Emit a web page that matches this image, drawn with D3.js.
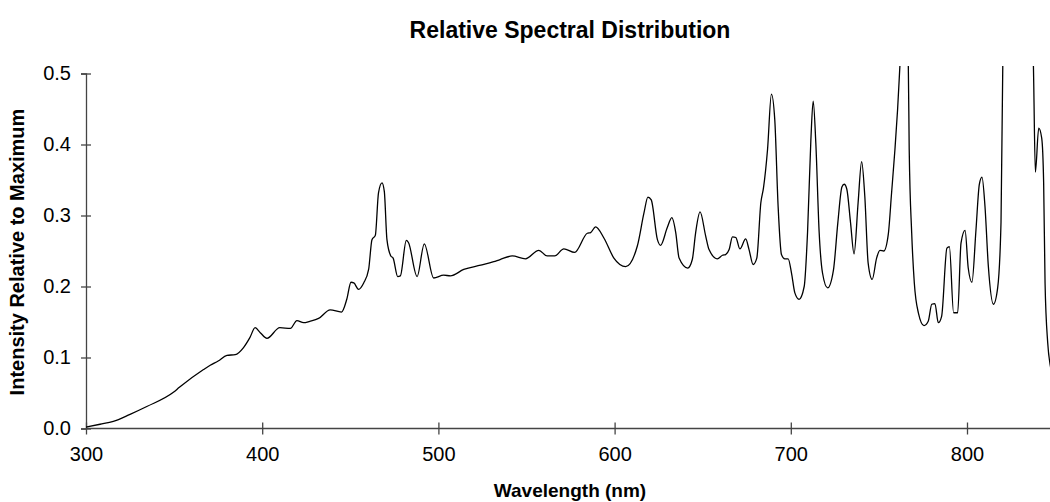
<!DOCTYPE html>
<html>
<head>
<meta charset="utf-8">
<script src="https://cdn.jsdelivr.net/npm/d3@7"></script>
<style>
  body { margin: 0; background: #fff; }
  text { font-family: "Liberation Sans", Arial, sans-serif; }
</style>
</head>
<body>
<div id="chart"></div>
<script>
// wavelength (nm) and relative intensity
const wavelength = [
  300, 308, 315.5, 325, 334.5, 349.6, 353, 366.7, 370.5, 375, 380, 384.7, 389.4, 393, 396, 398.9,
  402.7, 410, 416, 419.7, 423.5, 427, 432, 438.6, 445, 448, 450.4, 452, 454.7, 457.6, 460.4, 462.3,
  464.2, 466, 468, 469.3, 470.8, 473, 474.3, 476.9, 478.4, 481.8, 483, 487.9, 492, 497.3, 503, 506.8,
  514.4, 524, 531.4, 535, 541.9, 549.4, 557, 561.7, 566, 571.2, 577.3, 584.5, 586.4, 589.2, 594, 599.6,
  606.3, 612.9, 616.7, 618.9, 620.8, 624.3, 626.1, 629.9, 632.5, 634.7, 636.6, 641.5, 644.1, 646, 648.5,
  651.7, 653.6, 658.3, 661.2, 663, 665, 666.9, 668.8, 671.1, 674.4, 676.3, 678.6, 680.7, 683, 684.5,
  686.8, 689, 690.9, 692.8, 694.7, 696.6, 698.5, 700.4, 702.3, 704.7, 707.6, 709.5, 711.4, 712.7, 714.2,
  716.1, 718, 720.9, 724.2, 726.7, 729, 730.3, 731.8, 733.9, 735.9, 738.2, 740.2, 742, 743.9, 746.2,
  748.7, 750.6, 752.8, 755.3, 757.2, 759.1, 760.6, 761.9, 764.2, 766.7, 767.2, 768.6, 770.1, 772.4,
  775.6, 778, 780, 781.8, 783.7, 785.6, 788.6, 790, 792.4, 794.7, 796.6, 798.9, 800.7, 802.8, 805.1,
  807, 808.5, 810.2, 812.1, 815, 817.4, 819.3, 820.3, 828, 837.7, 838.8, 840.7, 842.4, 843.5, 844.3,
  845.8, 847.3, 849
];
const intensity = [
  0.002, 0.006, 0.010, 0.020, 0.031, 0.051, 0.058, 0.083, 0.089, 0.095, 0.103, 0.104, 0.114, 0.128, 0.142, 0.135,
  0.127, 0.142, 0.141, 0.152, 0.149, 0.151, 0.155, 0.167, 0.164, 0.182, 0.206, 0.205, 0.196, 0.205, 0.224, 0.266,
  0.272, 0.332, 0.346, 0.334, 0.266, 0.243, 0.240, 0.214, 0.215, 0.265, 0.262, 0.214, 0.260, 0.212, 0.216, 0.215,
  0.224, 0.230, 0.235, 0.238, 0.243, 0.239, 0.251, 0.243, 0.243, 0.253, 0.248, 0.275, 0.276, 0.284, 0.268, 0.240,
  0.228, 0.257, 0.304, 0.326, 0.322, 0.266, 0.258, 0.283, 0.297, 0.276, 0.240, 0.226, 0.238, 0.276, 0.305,
  0.271, 0.252, 0.239, 0.244, 0.245, 0.252, 0.270, 0.269, 0.253, 0.267, 0.252, 0.231, 0.240, 0.318, 0.339,
  0.393, 0.471, 0.435, 0.313, 0.245, 0.239, 0.239, 0.219, 0.191, 0.182, 0.200, 0.276, 0.407, 0.461, 0.402,
  0.276, 0.219, 0.198, 0.223, 0.290, 0.340, 0.344, 0.337, 0.290, 0.246, 0.318, 0.376, 0.327, 0.233, 0.210,
  0.240, 0.251, 0.250, 0.273, 0.332, 0.393, 0.449, 0.510, 0.620, 0.510, 0.393, 0.276, 0.205, 0.163,
  0.145, 0.151, 0.175, 0.176, 0.149, 0.158, 0.254, 0.256, 0.163, 0.163, 0.261, 0.279, 0.226, 0.206, 0.280,
  0.344, 0.354, 0.313, 0.229, 0.175, 0.198, 0.290, 0.510, 1.000, 0.510, 0.361, 0.423, 0.409, 0.346, 0.205,
  0.121, 0.088, 0.075
];
const xTicks = [300, 400, 500, 600, 700, 800];
const yTicks = [0, 0.1, 0.2, 0.3, 0.4, 0.5];

const W = 1050, H = 502;
const data = wavelength.map((w, i) => ({ w: w, v: intensity[i] }));

const x = d3.scaleLinear().domain([300, 800]).range([86, 967]);
const y = d3.scaleLinear().domain([0, 0.5]).range([428.5, 73.5]);

const svg = d3.select("#chart").append("svg")
    .attr("width", W)
    .attr("height", H);

svg.append("defs").append("clipPath")
    .attr("id", "plot")
  .append("rect")
    .attr("x", 86).attr("y", 66)
    .attr("width", W - 86).attr("height", 428.5 - 66);

// title
svg.append("text")
    .attr("x", 570).attr("y", 38)
    .attr("text-anchor", "middle")
    .style("font-size", "23px")
    .style("font-weight", "bold")
    .text("Relative Spectral Distribution");

// axes
const xAxis = svg.append("g")
    .attr("transform", `translate(0, ${y(0)})`)
    .call(d3.axisBottom(x).tickValues(xTicks).tickFormat(d3.format("d"))
        .tickSizeOuter(0).tickSize(6).tickPadding(12));
xAxis.select(".domain").attr("d", `M${x(300)},0H${W}`);
xAxis.selectAll(".tick line").attr("y1", -6);

const yAxis = svg.append("g")
    .attr("transform", `translate(${x(300)}, 0)`)
    .call(d3.axisLeft(y).tickValues(yTicks).tickFormat(d3.format(".1f"))
        .tickSizeOuter(0).tickSize(5).tickPadding(10));
yAxis.selectAll(".tick line").attr("x1", 5).attr("x2", -5);

svg.selectAll(".domain, .tick line").attr("stroke", "#444").attr("stroke-width", 1.3);
svg.selectAll(".tick text").style("font-size", "20px").attr("fill", "#000");

// axis titles
svg.append("text")
    .attr("x", 570).attr("y", 497)
    .attr("text-anchor", "middle")
    .style("font-size", "19px")
    .style("font-weight", "bold")
    .text("Wavelength (nm)");

svg.append("text")
    .attr("transform", "translate(24, 252) rotate(-90)")
    .attr("text-anchor", "middle")
    .style("font-size", "20px")
    .style("font-weight", "bold")
    .text("Intensity Relative to Maximum");

// spectrum
const line = d3.line()
    .x(d => x(d.w))
    .y(d => y(d.v))
    .curve(d3.curveMonotoneX);

svg.append("path")
    .datum(data)
    .attr("clip-path", "url(#plot)")
    .attr("fill", "none")
    .attr("stroke", "#000")
    .attr("stroke-width", 1.3)
    .attr("d", line);
</script>
</body>
</html>
